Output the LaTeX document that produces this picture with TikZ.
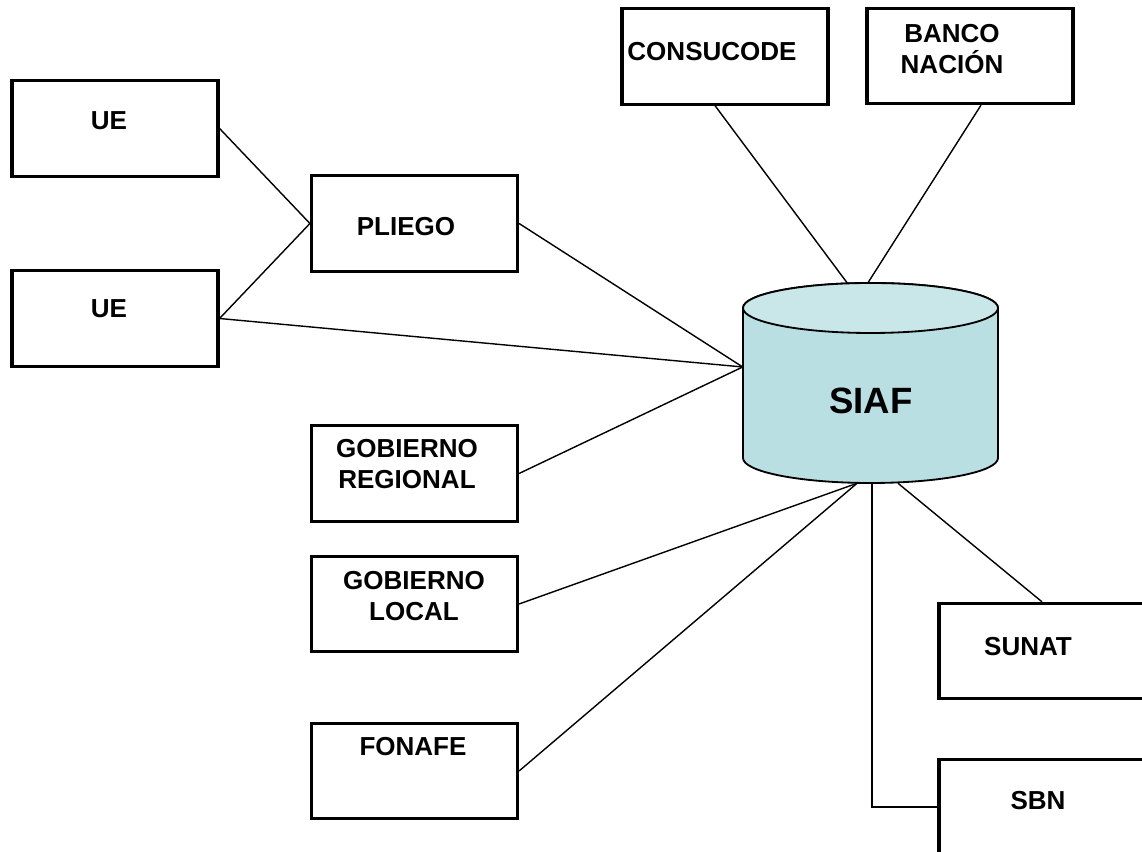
\documentclass[tikz,border=0pt]{standalone}
\usepackage{fontspec}
\setmainfont{Liberation Sans}
\usetikzlibrary{calc}
\definecolor{dbside}{RGB}{185,223,227}
\definecolor{dbtop}{RGB}{201,230,233}
\definecolor{ink}{RGB}{0,0,0}

\begin{document}
\begin{tikzpicture}[x=0.025cm,y=0.025cm,font=\bfseries\fontsize{18.5}{22.5}\selectfont]
\tikzset{box/.style={draw=ink,line width=2.2pt,minimum width=5.15cm,minimum height=2.38cm,inner sep=0pt},
  lbl/.style={inner sep=0pt,align=center},link/.style={draw=ink,line width=1pt}}
\clip (0,0) rectangle (1142,852);
% left column
\node[box] (ue1) at (115,723.5) {};
\node[box] (ue2) at (115,533.5) {};
\node[box] (pliego) at (414.5,628.5) {};
\node[box] (gobreg) at (414.5,378.5) {};
\node[box] (goblocal) at (414.5,248) {};
\node[box] (fonafe) at (414.5,81) {};
% top and right
\node[box] (consucode) at (725,795.5) {};
\node[box] (banco) at (970,796) {};
\node[box] (sunat) at (1042,201) {};
\node[box] (sbn) at (1042,45) {};
% texts
\node[lbl] (ue1-t) at (109,731) {UE};
\node[lbl] (ue2-t) at (109,543) {UE};
\node[lbl] (pliego-t) at (406,625) {PLIEGO};
\node[lbl] (gobreg-t) at (407,388) {GOBIERNO\\REGIONAL};
\node[lbl] (goblocal-t) at (414,256) {GOBIERNO\\LOCAL};
\node[lbl] (fonafe-t) at (413,105) {FONAFE};
\node[lbl] (consucode-t) at (712,800) {CONSUCODE};
\node[lbl] (banco-t) at (952,803) {BANCO\\NACIÓN};
\node[lbl] (sunat-t) at (1028,205) {SUNAT};
\node[lbl] (sbn-t) at (1038,51) {SBN};
% database
\node[minimum width=6.375cm,minimum height=5cm,inner sep=0pt] (siaf) at (870.5,469) {};
\filldraw[fill=dbside,draw=ink,line width=1.3pt] (743,544) -- (743,394) arc[start angle=180,end angle=360,x radius=127.5,y radius=25]
  -- (998,544) arc[start angle=0,end angle=180,x radius=127.5,y radius=25] -- cycle;
\filldraw[fill=dbtop,draw=ink,line width=1.3pt] (870.5,544) ellipse[x radius=127.5,y radius=25];
\node[lbl,font=\bfseries\fontsize{26}{30}\selectfont] (siaf-t) at (871,451) {SIAF};
% links
\draw[link] (ue1.east) -- (pliego.west);
\draw[link] (ue2.east) -- (pliego.west);
\draw[link] (ue2.east) -- ($(siaf.west)+(0,16)$);
\draw[link] (pliego.east) -- ($(siaf.west)+(0,16)$);
\draw[link] (gobreg.east) -- ($(siaf.west)+(0,16)$);
\draw[link] (goblocal.east) -- ($(siaf.south)+(-13.5,0)$);
\draw[link] (fonafe.east) -- ($(siaf.south)+(-13.5,0)$);
\draw[link] ($(siaf.south)+(1.5,0)$) |- (sbn.west);
\draw[link] ($(siaf.south)+(27.5,0)$) -- (sunat.north);
\draw[link] ($(consucode.south)+(-10,0)$) -- ($(siaf.north)+(-23.5,0)$);
\draw[link] ($(banco.south)+(11,0)$) -- ($(siaf.north)+(-2.5,0)$);
\end{tikzpicture}
\end{document}
